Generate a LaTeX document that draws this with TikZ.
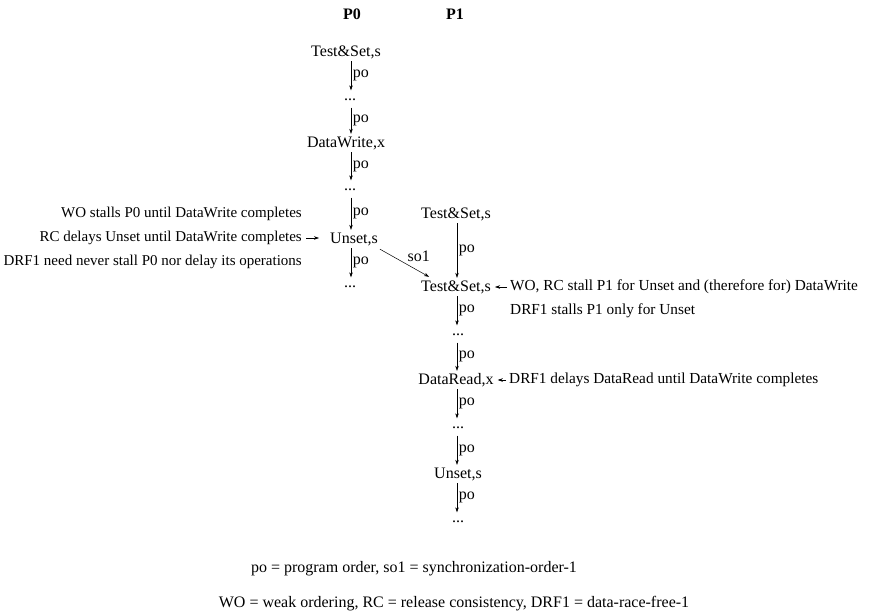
\documentclass[tikz,border=0pt]{standalone}
\usepackage{fontspec}
\setmainfont{Liberation Serif}
\usetikzlibrary{arrows.meta, positioning}

\begin{document}
\begin{tikzpicture}[x=1pt, y=-1pt,
    every node/.style={font=\fontsize{16}{18}\selectfont},
    event/.style={inner sep=2pt, text height=11pt, text depth=3pt},
    dots/.style={inner xsep=2pt, inner ysep=7pt, text height=3pt, text depth=0pt},
    note/.style={inner sep=2pt, font=\fontsize{15.3}{18}\selectfont},
    lnote/.style={note, anchor=east, font=\fontsize{15}{18}\selectfont},
    rnote/.style={note, anchor=west},
    po/.style={-{Stealth[length=5pt,width=3.5pt]}, line width=0.5pt},
    lbl/.style={right, inner sep=1.5pt}
]
    \useasboundingbox (0,0) rectangle (872,614);

    \node[font=\fontsize{16}{18}\selectfont\bfseries] (p0) at (352,14) {P0};
    \node[font=\fontsize{16}{18}\selectfont\bfseries] (p1) at (455,14) {P1};

    \node[event] (ts0) at (346,52) {Test\&Set,s};
    \node[dots] (d0a) at (350,99) {...};
    \node[event] (dw) at (346,143) {DataWrite,x};
    \node[dots] (d0b) at (350,189) {...};
    \node[event] (un0) at (354,239) {Unset,s};
    \node[dots] (d0c) at (350,286) {...};

    \node[event] (ts1a) at (456,214) {Test\&Set,s};
    \node[event] (ts1b) at (456,287) {Test\&Set,s};
    \node[dots] (d1a) at (458,334) {...};
    \node[event] (dr) at (456,380) {DataRead,x};
    \node[dots] (d1b) at (458,427) {...};
    \node[event] (un1) at (458,474) {Unset,s};
    \node[dots] (d1c) at (458,521) {...};

    \foreach \a/\b in {ts0/d0a, d0a/dw, dw/d0b, d0b/un0, un0/d0c}
        \draw[po] (\a.south -| 351,0) -- (\b.north -| 351,0) node[midway, lbl] {po};
    \foreach \a/\b in {ts1a/ts1b, ts1b/d1a, d1a/dr, dr/d1b, d1b/un1, un1/d1c}
        \draw[po] (\a.south -| 457,0) -- (\b.north -| 457,0) node[midway, lbl] {po};

    \draw[po] ([yshift=-1pt]un0.south east) -- ([xshift=10pt,yshift=1pt]ts1b.north west) node[pos=0.55, above right=-1pt and -3pt] {so1};

    \node[lnote] (wo0) at (304,214) {WO stalls P0 until DataWrite completes};
    \node[lnote] (rc0) at (304,238) {RC delays Unset until DataWrite completes};
    \node[lnote] (drf0) at (304,262) {DRF1 need never stall P0 nor delay its operations};
    \draw[po, shorten <=2pt, shorten >=9pt] (rc0.east) -- (rc0.east -| un0.west);

    \node[rnote] (wo1) at (508,287) {WO, RC stall P1 for Unset and (therefore for) DataWrite};
    \node[rnote] (drf1) at (508,311) {DRF1 stalls P1 only for Unset};
    \draw[po, shorten <=1pt, shorten >=2pt] (wo1.west) -- (wo1.west -| ts1b.east);

    \node[rnote] (drf2) at (507,380) {DRF1 delays DataRead until DataWrite completes};
    \draw[po, shorten <=1pt, shorten >=2pt] (drf2.west) -- (drf2.west -| dr.east);

    \node[note, font=\fontsize{16}{18}\selectfont] (key1) at (414,569) {po = program order, so1 = synchronization-order-1};
    \node[note, font=\fontsize{16}{18}\selectfont] (key2) at (454,604) {WO = weak ordering, RC = release consistency, DRF1 = data-race-free-1};
\end{tikzpicture}
\end{document}
